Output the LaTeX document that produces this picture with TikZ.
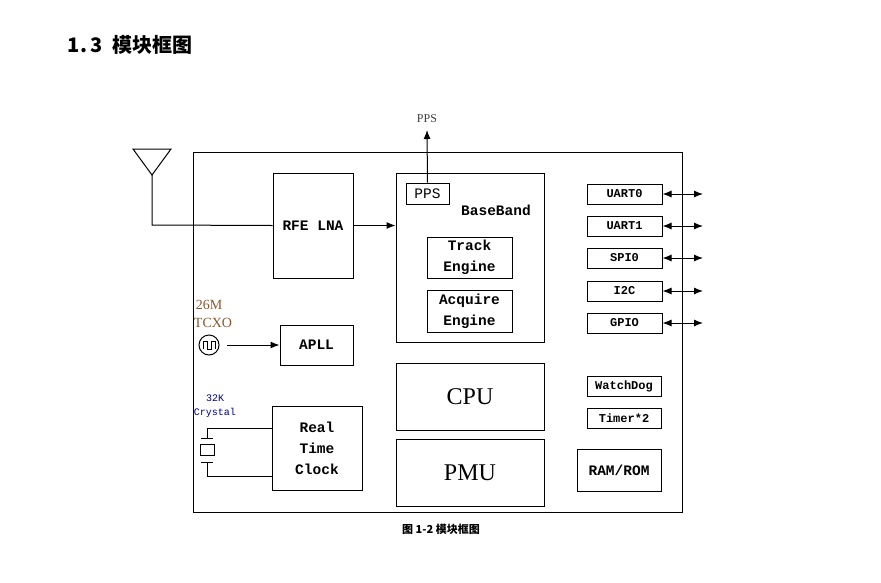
\documentclass[tikz,border=0pt]{standalone}
\usepackage{fontspec}
\setmainfont{Liberation Serif}
\setmonofont{Liberation Mono}
\newfontfamily\cjk{Noto Sans CJK SC}
\usetikzlibrary{arrows.meta}
\begin{document}
\begin{tikzpicture}[x=1pt,y=-1pt,line width=1pt,
  blk/.style={draw,minimum width=#1,inner sep=0pt,align=center,font=\ttfamily\bfseries\fontsize{14.5}{21}\selectfont},
  sm/.style={draw,inner sep=0pt,font=\ttfamily\bfseries\fontsize{12}{13}\selectfont},
  arr/.style={-{Latex[length=9pt,width=7pt]}},
  barr/.style={{Latex[length=9pt,width=7pt]}-{Latex[length=9pt,width=7pt]}}]
\useasboundingbox (0,0) rectangle (881,582);
\node[anchor=west,font=\cjk\bfseries\fontsize{20}{22}\selectfont] (title) at (64,45) {1.\,3\enspace 模块框图};
\node[draw,minimum width=489,minimum height=360,inner sep=0pt] (outer) at (437.5,332) {};
\draw (133,149) -- (171,149) -- (152,175) -- cycle;
\coordinate (ant) at (152,175);
\node[blk,minimum height=105] (rfe) at (313,225.5) [minimum width=80] {RFE LNA};
\draw (ant) -- (152,225) -- (rfe.west);
\node[draw,minimum width=148,minimum height=169,inner sep=0pt] (bb) at (470,257.5) {};
\draw[arr] (rfe.east) -- (bb.west |- rfe.east);
\node[font=\ttfamily\bfseries\fontsize{14.5}{16}\selectfont] (bbl) at (496,210) {BaseBand};
\node[blk,minimum width=43,minimum height=21,font=\ttfamily\fontsize{14.5}{16}\selectfont] (pps) at (427.5,193.5) {PPS};
\node[font=\fontsize{12}{13}\selectfont,text=black!75] (ppsl) at (427,119) {PPS};
\draw[arr] (pps.north) -- (427,130);
\node[blk,minimum width=85,minimum height=41] (track) at (469.5,257.5) {Track\\Engine};
\node[blk,minimum width=85,minimum height=42] (acq) at (469.5,311) {Acquire\\Engine};
\node[draw,minimum width=148,minimum height=67,inner sep=0pt,font=\fontsize{24}{26}\selectfont] (cpu) at (470,396.5) {CPU};
\node[draw,minimum width=148,minimum height=67,inner sep=0pt,font=\fontsize{24}{26}\selectfont] (pmu) at (470,472.5) {PMU};
\node[blk,minimum width=73,minimum height=40] (apll) at (316.5,345) {APLL};
\node[draw,circle,minimum size=20,inner sep=0pt] (tcxo) at (209,345) {};
\draw[line width=0.8pt] (203,349) -- (203,341) -- (207,341) -- (207,349) -- (211,349) -- (211,341) -- (215,341) -- (215,349);
\draw[arr] (227,345) -- (apll.west);
\node[font=\fontsize{14}{15}\selectfont,text=brown!70!black] (m26) at (209,305) {26M};
\node[font=\fontsize{14}{15}\selectfont,text=brown!70!black] (tcl) at (213,323) {TCXO};
\node[blk,minimum width=90,minimum height=84] (rtc) at (317,448) {Real\\Time\\Clock};
\node[font=\ttfamily\fontsize{10}{11}\selectfont,text=blue!50!black] (k32) at (215,398) {32K};
\node[font=\ttfamily\fontsize{10}{11}\selectfont,text=blue!50!black] (cry) at (215,413) {Crystal};
\node[draw,minimum width=14,minimum height=11,inner sep=0pt,line width=0.8pt] (xtal) at (207,450) {};
\draw[line width=0.8pt] (rtc.west |- 0,428) -- (207,428) -- (207,438) (201,438) -- (213,438);
\draw[line width=0.8pt] (201,462) -- (213,462) (207,462) -- (207,476) -- (rtc.west |- 0,476);
\foreach \n/\t/\y in {u0/UART0/194,u1/UART1/226,spi/SPI0/258,i2c/I2C/291,gpio/GPIO/323}{
  \node[sm,minimum width=75,minimum height=20] (\n) at (624.5,\y) {\t};
  \draw[barr] (\n.east) -- (703,\y);
}
\node[sm,minimum width=74,minimum height=20] (wd) at (624,386) {WatchDog};
\node[sm,minimum width=74,minimum height=20] (tm) at (624,418) {Timer*2};
\node[blk,minimum width=84,minimum height=42] (ram) at (619,470) {RAM/ROM};
\node[font=\cjk\bfseries\fontsize{11}{12}\selectfont] (cap) at (441,529) {图 1-2 模块框图};
\end{tikzpicture}
\end{document}
